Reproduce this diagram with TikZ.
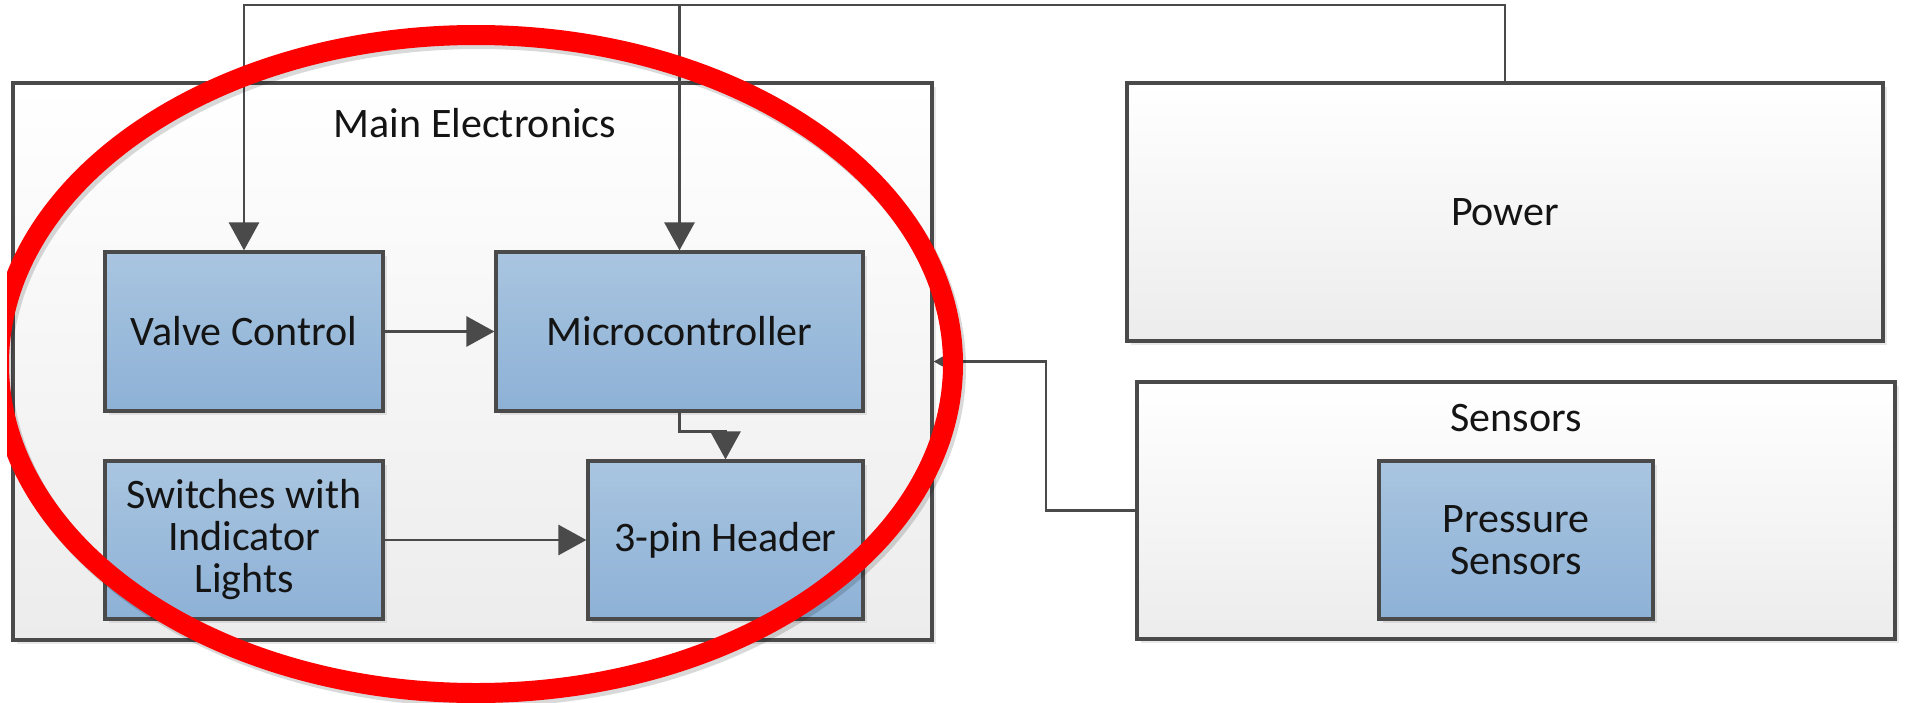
\documentclass[tikz,border=0pt]{standalone}
\usepackage{fontspec}
\setmainfont{Carlito}
\usetikzlibrary{arrows.meta,shadows,calc}
\definecolor{bord}{HTML}{4A4A4A}
\definecolor{linkcol}{HTML}{4A4A4A}
\definecolor{bluetop}{HTML}{A9C5E0}
\definecolor{bluebot}{HTML}{8DB1D6}
\definecolor{greybot}{HTML}{ECECEC}
\definecolor{ink}{HTML}{141414}
\definecolor{ringred}{HTML}{FF0000}
\begin{document}
\begin{tikzpicture}[x=0.5pt,y=-0.5pt,
  every node/.style={font=\fontsize{21}{21}\selectfont, text=ink, inner sep=0pt},
  container/.style={draw=bord, line width=1.6pt, top color=white, bottom color=greybot,
    drop shadow={shadow xshift=2pt, shadow yshift=-2pt, opacity=0.18}},
  bluebox/.style={draw=bord, line width=1.6pt, top color=bluetop, bottom color=bluebot,
    align=center, drop shadow={shadow xshift=2pt, shadow yshift=-2pt, opacity=0.18}},
  link/.style={draw=linkcol, line width=1.4pt, -{Triangle[length=14pt,width=15pt]}},
  ring/.style={draw=ringred, line width=10pt},
  ringshadow/.style={draw=black, opacity=0.15, line width=10pt}
]
\useasboundingbox (0,0) rectangle (1906,702);
\fill[white] (0,0) rectangle (1906,702);

% containers
\node[container, minimum width=459.5pt, minimum height=278.5pt] (main) at (472.5,361.5) {};
\node[container, minimum width=378pt, minimum height=129pt] (power) at (1505,212) {Power};
\node[container, minimum width=379pt, minimum height=128.5pt] (sensors) at (1516,510.5) {};
\node (metitle) at (475,123) {Main Electronics};
\node (sentitle) at (1516,418) {Sensors};

% inner blocks
\node[bluebox, minimum width=139pt, minimum height=79.5pt] (valve) at (244,331.5) {Valve Control};
\node[bluebox, minimum width=183.5pt, minimum height=79.5pt] (micro) at (679.5,331.5) {Microcontroller};
\node[bluebox, minimum width=139pt, minimum height=79pt] (switch) at (244,540) {Switches with\\Indicator\\Lights};
\node[bluebox, minimum width=137.5pt, minimum height=79pt] (header) at (725.5,540) {3-pin Header};
\node[bluebox, minimum width=137pt, minimum height=79pt] (press) at (1516,540) {Pressure\\Sensors};

% connectors
\coordinate (tl) at (244,5);
\coordinate (tr) at (679.5,5);
\coordinate (sx) at (1046,0);
\draw[link] (power.north) |- (tl) -- (valve.north);
\draw[link] (power.north) |- (tr) -- (micro.north);
\draw[link] (valve.east) -- (micro.west);
\draw[link] (switch.east) -- (header.west);
\draw[link] (micro.south) -- ++(0,19) -| (header.north);
\draw[link] (sensors.west) -- (sensors.west -| sx) |- (main.east);

% red highlight ring
\begin{scope}
  \clip (7,0) rectangle (1906,702);
  \draw[ringshadow] (479,368) ellipse [x radius=238.5pt, y radius=164.5pt];
  \draw[ring] (476,364) ellipse [x radius=238.5pt, y radius=164.5pt];
\end{scope}
\end{tikzpicture}
\end{document}
